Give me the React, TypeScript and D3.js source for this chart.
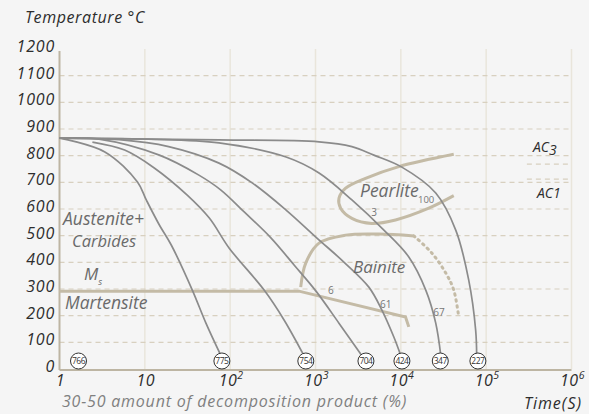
import React from 'react';
import * as d3 from 'd3';

// tick values
const tempTicks = [0, 100, 200, 300, 400, 500, 600, 700, 800, 900, 1000, 1100, 1200];
const timeTicks = [1, 10, 100, 1e3, 1e4, 1e5, 1e6];
const timeExponents = ['', '', '2', '3', '4', '5', '6'];

// cooling rate markers at the foot of each cooling curve
const coolingRates = [766, 775, 754, 704, 424, 347, 227];
const rateTimes = [1.67, 80, 770, 3900, 10300, 29000, 80000];

// cooling curves [time s, temperature °C]
const curve775: [number, number][] = [
  [1, 866], [3.4, 814], [8.2, 701], [10.4, 634], [14.8, 540], [20.4, 465],
  [36, 296], [52, 172], [78, 50],
];
const curve754: [number, number][] = [
  [2.43, 851], [5.8, 821], [12.9, 754], [31.4, 652], [57, 566], [97, 454],
  [250, 296], [428, 184], [733, 50],
];
const curve704: [number, number][] = [
  [1, 866], [2.9, 862], [14.8, 802], [43, 727], [78, 671], [146, 589],
  [302, 491], [561, 390], [1013, 292], [1883, 172], [3500, 50],
];
const curve424: [number, number][] = [
  [1, 866], [5, 860], [19, 834], [74, 772], [181, 698], [452, 596],
  [1040, 491], [2150, 401], [4220, 307], [6000, 221], [8280, 120], [10000, 50],
];
const curve347: [number, number][] = [
  [1, 866], [11, 862], [74, 848], [452, 795], [1100, 735], [2670, 634],
  [6330, 521], [12400, 420], [19600, 296], [25650, 172], [29400, 50],
];
const curve227: [number, number][] = [
  [1, 866], [74, 859], [1100, 852], [2670, 834], [4830, 802], [10270, 757],
  [25650, 660], [44000, 521], [62400, 334], [75300, 146], [77400, 50],
];
const coolingCurves = [curve775, curve754, curve704, curve424, curve347, curve227];

// transformation lines
const msLine: [number, number][] = [[1, 292], [640, 292], [11350, 195], [12400, 158]];
const bainiteStart: [number, number][] = [
  [671, 307], [768, 397], [1100, 472], [2256, 502], [5530, 506], [14200, 499],
];
const bainiteEnd: [number, number][] = [
  [14200, 499], [23050, 435], [33600, 360], [41700, 296], [47700, 195],
];
const pearliteCurve: [number, number][] = [
  [41700, 805], [9480, 759], [3860, 715], [2256, 678], [1883, 640], [1970, 603],
  [2670, 565], [4580, 546], [8670, 559], [21250, 603], [41700, 650],
];

// small percentages along the curves
const percentLabels: { t: number; T: number; text: string }[] = [
  { t: 4500, T: 574, text: '3' },
  { t: 1400, T: 281, text: '6' },
  { t: 5700, T: 228, text: '61' },
  { t: 24000, T: 200, text: '67' },
];

const W = 589;
const H = 414;
const x = d3.scaleLog().domain([1, 1e6]).range([59.5, 571.5]);
const y = d3.scaleLinear().domain([0, 1200]).range([369, 49]);

const line = d3
  .line<[number, number]>()
  .x(d => x(d[0]))
  .y(d => y(d[1]))
  .curve(d3.curveCatmullRom.alpha(0.5));

const straight = d3
  .line<[number, number]>()
  .x(d => x(d[0]))
  .y(d => y(d[1]));

const FONT = "'Open Sans', sans-serif";
const BEIGE = '#c4bba6';
const GRID = '#d8d0bf';
const DARK = '#2d2d2d';
const LABEL = '#6a6a6a';

export default function App() {
  return (
    <svg
      width={W}
      height={H}
      style={{ position: 'absolute', left: 0, top: 0, fontFamily: FONT, fontStyle: 'italic' }}
    >
      <rect width={W} height={H} fill="#f5f5f5" />

      {/* vertical decade lines */}
      {timeTicks.slice(1).map(t => (
        <line key={t} x1={x(t)} x2={x(t)} y1={y(1200)} y2={y(0)} stroke="#e9e5db" strokeWidth={1.5} />
      ))}

      {/* horizontal dashed grid */}
      {tempTicks.slice(1, -1).map(T => (
        <line
          key={T}
          x1={x(1)}
          x2={x(1e6)}
          y1={y(T)}
          y2={y(T)}
          stroke={GRID}
          strokeWidth={1.2}
          strokeDasharray="5,4"
        />
      ))}

      {/* AC3 / AC1 marks */}
      {[768, 712].map(T => (
        <line key={T} x1={x(3e5)} x2={x(1e6)} y1={y(T)} y2={y(T)} stroke={GRID} strokeWidth={1.2} strokeDasharray="5,4" />
      ))}

      {/* axes */}
      <line x1={x(1)} x2={x(1)} y1={y(1200) + 2} y2={y(0) + 1} stroke="#bdb5a3" strokeWidth={2} />
      <line x1={x(1)} x2={x(1e6)} y1={y(0) + 1} y2={y(0) + 1} stroke="#bdb5a3" strokeWidth={2} />

      {/* y tick labels */}
      {tempTicks.map(T => (
        <text key={T} x={55} y={y(T) + 3} textAnchor="end" fontSize={16} letterSpacing={0.8} fill={DARK}>
          {T}
        </text>
      ))}

      {/* x tick labels */}
      {timeTicks.map((t, i) => (
        <text key={t} x={x(t) + 1} y={386} textAnchor="middle" fontSize={16} letterSpacing={0.5} fill={DARK}>
          {t === 1 ? '1' : '10'}
          {timeExponents[i] && (
            <tspan fontSize={10.5} dy={-7}>
              {timeExponents[i]}
            </tspan>
          )}
        </text>
      ))}

      {/* transformation lines */}
      <path d={line(pearliteCurve) ?? ''} fill="none" stroke={BEIGE} strokeWidth={3} />
      <path d={line(bainiteStart) ?? ''} fill="none" stroke={BEIGE} strokeWidth={3} />
      <path
        d={line(bainiteEnd) ?? ''}
        fill="none"
        stroke={BEIGE}
        strokeWidth={3}
        strokeDasharray="1.5,4.5"
        strokeLinecap="round"
      />
      <path d={straight(msLine) ?? ''} fill="none" stroke={BEIGE} strokeWidth={3} />

      {/* cooling curves */}
      {coolingCurves.map((c, i) => (
        <path key={i} d={line(c) ?? ''} fill="none" stroke="#8b8b8b" strokeWidth={1.7} />
      ))}

      {/* cooling rate circles */}
      {coolingRates.map((r, i) => (
        <g key={r} transform={`translate(${x(rateTimes[i])},${y(30)})`}>
          <circle r={8} fill="#ffffff" stroke="#333" strokeWidth={1} />
          <text y={3} textAnchor="middle" fontSize={8.5} fontStyle="normal" fill="#333" letterSpacing={-0.5}>
            {r}
          </text>
        </g>
      ))}

      {/* percentages */}
      {percentLabels.map(p => (
        <text key={p.text} x={x(p.t)} y={y(p.T)} fontSize={10} fontStyle="normal" fill="#777">
          {p.text}
        </text>
      ))}

      {/* region labels */}
      <text x={360} y={197} fontSize={17.5} fill={LABEL}>Pearlite</text>
      <text x={418} y={203} fontSize={9.5} fontStyle="normal" fill="#777">100</text>
      <text x={353} y={273} fontSize={17} fill={LABEL}>Bainite</text>
      <text x={63} y={225} fontSize={17.5} fill={LABEL}>Austenite+</text>
      <text x={72} y={247} fontSize={16.5} fill={LABEL}>Carbides</text>
      <text x={84} y={280} fontSize={17} fill={LABEL}>
        M<tspan fontSize={9} dy={5}>s</tspan>
      </text>
      <text x={65} y={309} fontSize={17.5} fill={LABEL}>Martensite</text>

      <text x={533} y={152} fontSize={14} fill={DARK}>
        AC<tspan fontSize={14} dy={3}>3</tspan>
      </text>
      <text x={537} y={198} fontSize={14} fill={DARK}>
        AC1
      </text>

      {/* titles */}
      <text x={25} y={23} fontSize={16} letterSpacing={0.6} fill={DARK}>Temperature °C</text>
      <text x={62} y={407} fontSize={16} letterSpacing={0.8} fill="#808080">
        30-50 amount of decomposition product (%)
      </text>
      <text x={582} y={409} textAnchor="end" fontSize={16} letterSpacing={1} fill={DARK}>Time(S)</text>
    </svg>
  );
}
